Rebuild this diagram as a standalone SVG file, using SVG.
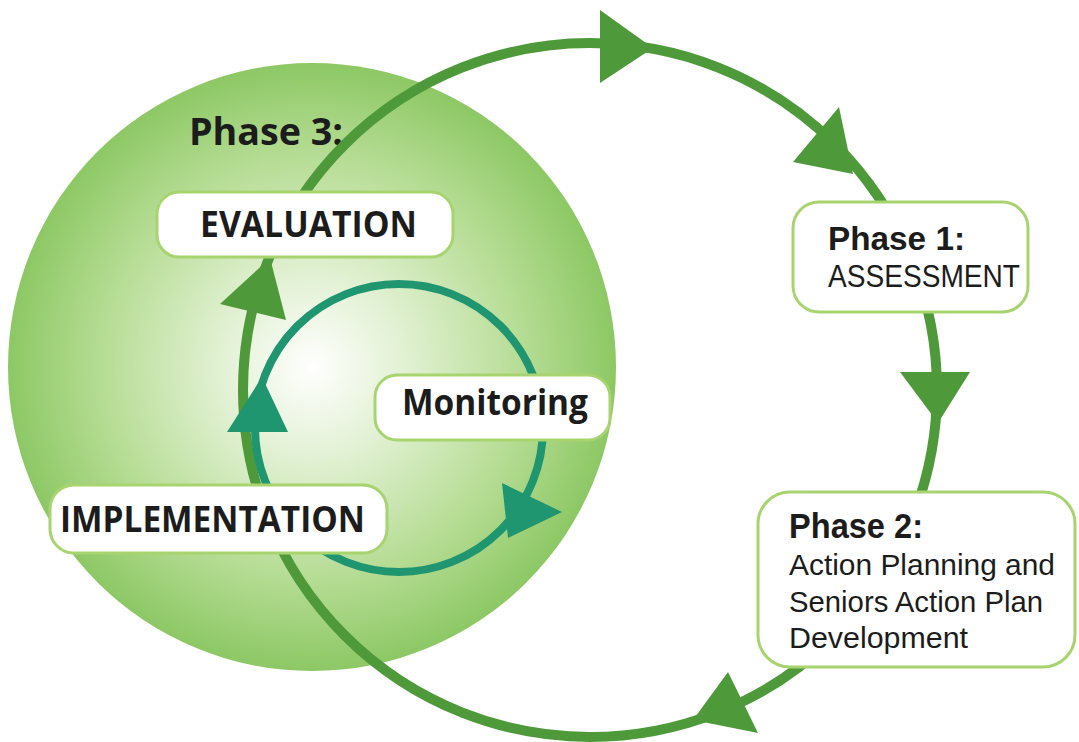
<svg xmlns="http://www.w3.org/2000/svg" width="1079" height="742" viewBox="0 0 1079 742">
  <defs>
    <radialGradient id="sphereGrad" cx="0.5" cy="0.5" r="0.5" fx="0.5" fy="0.5">
      <stop offset="0" stop-color="#ffffff"/>
      <stop offset="0.3" stop-color="#e2f1d4"/>
      <stop offset="0.7" stop-color="#b5dc93"/>
      <stop offset="1" stop-color="#8dc865"/>
    </radialGradient>
    <style>
      .box { fill: #ffffff; stroke: #a8d46f; stroke-width: 3; }
      .outer { fill: none; stroke: #4e9a3a; stroke-width: 10; }
      .inner { fill: none; stroke: #1f9670; stroke-width: 8; }
      .outerHead { fill: #4e9a3a; }
      .innerHead { fill: #1f9670; }
      .bold { font-family: "Open Sans", "Noto Sans", "Liberation Sans", sans-serif; font-weight: 700; fill: #1c1c1c; }
      .pbold { font-family: "Liberation Sans", Arial, sans-serif; font-weight: 700; fill: #1c1c1c; }
      .preg { font-family: "Liberation Sans", Arial, sans-serif; font-weight: 400; fill: #1c1c1c; }
    </style>
  </defs>

  <rect width="1079" height="742" fill="#ffffff"/>

  <g id="sphere">
    <circle cx="312" cy="367" r="304" fill="url(#sphereGrad)"/>
  </g>

  <g id="phase3-label">
    <text class="bold" x="189" y="145" font-size="38" textLength="154" lengthAdjust="spacingAndGlyphs">Phase 3:</text>
  </g>

  <g id="connectors">
    <circle class="outer" cx="590" cy="390" r="347"/>
    <circle class="inner" cx="399" cy="428" r="144"/>
    <polygon class="outerHead" points="600,10 600,83 653,48"/>
    <polygon class="outerHead" points="839,107 793,162 853,174"/>
    <polygon class="outerHead" points="900,372 970,372 938,423"/>
    <polygon class="outerHead" points="728,672 758,733 693,720"/>
    <polygon class="outerHead" points="220,304 286,320 270,258"/>
    <polygon class="innerHead" points="227,432 288,432 262,377"/>
    <polygon class="innerHead" points="502,483 562,512 508,538"/>
  </g>

  <g id="evaluation">
    <rect class="box" x="157" y="192" width="296" height="65" rx="22"/>
    <text class="bold" x="200" y="237" font-size="35" textLength="217" lengthAdjust="spacingAndGlyphs">EVALUATION</text>
  </g>

  <g id="monitoring">
    <rect class="box" x="375" y="375" width="235" height="65" rx="22"/>
    <text class="bold" x="402" y="415" font-size="35" textLength="186" lengthAdjust="spacingAndGlyphs">Monitoring</text>
  </g>

  <g id="implementation">
    <rect class="box" x="50" y="485" width="337" height="68" rx="24"/>
    <text class="bold" x="60" y="532" font-size="35" textLength="305" lengthAdjust="spacingAndGlyphs">IMPLEMENTATION</text>
  </g>

  <g id="phase1">
    <rect class="box" x="793" y="202" width="235" height="110" rx="26"/>
    <text class="pbold" x="828" y="250" font-size="33" textLength="137" lengthAdjust="spacingAndGlyphs">Phase 1:</text>
    <text class="preg" x="828" y="287" font-size="32" textLength="192" lengthAdjust="spacingAndGlyphs">ASSESSMENT</text>
  </g>

  <g id="phase2">
    <rect class="box" x="758" y="492" width="317" height="175" rx="32"/>
    <text class="pbold" x="789" y="538" font-size="35" textLength="134" lengthAdjust="spacingAndGlyphs">Phase 2:</text>
    <text class="preg" x="789" y="575" font-size="30" textLength="266" lengthAdjust="spacingAndGlyphs">Action Planning and</text>
    <text class="preg" x="789" y="612" font-size="30" textLength="254" lengthAdjust="spacingAndGlyphs">Seniors Action Plan</text>
    <text class="preg" x="789" y="648" font-size="30" textLength="179" lengthAdjust="spacingAndGlyphs">Development</text>
  </g>
</svg>
